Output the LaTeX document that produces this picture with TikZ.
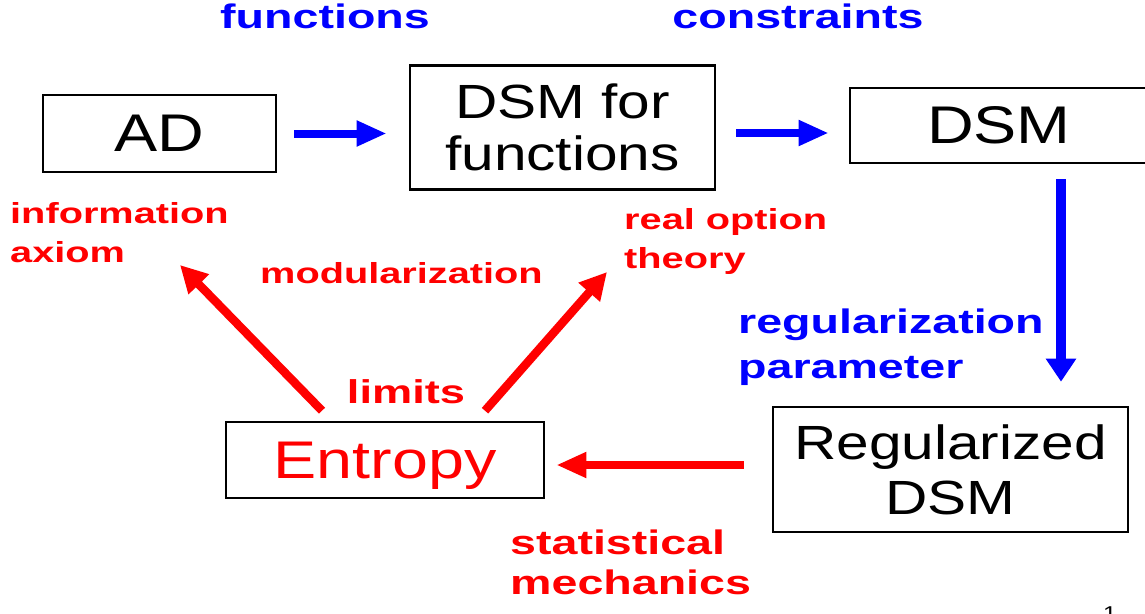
\documentclass[tikz,border=0pt]{standalone}
\usepackage{fontspec}
\usetikzlibrary{arrows.meta}
\newfontfamily\boxfont[FakeStretch=1.22]{Liberation Sans}
\newfontfamily\tagfont[FakeStretch=1.37]{Liberation Sans Bold}
\definecolor{tagred}{RGB}{255,0,0}
\definecolor{tagblue}{RGB}{0,0,255}
\begin{document}
\begin{tikzpicture}[x=1pt,y=-1pt,
  box/.style={draw=black, line width=2.6pt, inner sep=0pt, align=center, text=black},
  bigtext/.style={font=\boxfont\fontsize{53}{60}\selectfont},
  twotext/.style={font=\boxfont\fontsize{48}{#1}\selectfont},
  tag/.style={inner sep=0pt, align=left},
  tagsmall/.style={font=\tagfont\fontsize{29}{39}\selectfont},
  taglarge/.style={font=\tagfont\fontsize{34}{#1}\selectfont},
  flowH/.style={line width=8pt, -{Triangle[length=30pt,width=24pt]}},
  flowV/.style={line width=10pt, -{Triangle[length=23pt,width=29pt]}},
  flowD/.style={line width=8.5pt, -{Triangle[length=27pt,width=27pt]}},
]
\useasboundingbox (0,0) rectangle (1145,613);
\clip (0,0) rectangle (1145,613);

% boxes
\node[box, bigtext, minimum width=233pt, minimum height=77pt] (ad) at (159.5,133.5) {AD};
\node[box, twotext=52, minimum width=305pt, minimum height=124pt] (dsmf) at (562.5,127.5) {DSM for\\functions};
\node[box, bigtext, minimum width=298pt, minimum height=75pt] (dsm) at (999,125.5) {DSM};
\node[box, twotext=55, minimum width=355pt, minimum height=125pt] (reg) at (950.5,469.5) {Regularized\\DSM};
\node[box, bigtext, text=tagred, text depth=0pt, minimum width=318pt, minimum height=76pt] (ent) at (385,460) {Entropy};

% label texts
\node[tag, taglarge=40, text=tagblue, anchor=base] (lfun) at (325,28) {functions};
\node[tag, taglarge=40, text=tagblue, anchor=base] (lcon) at (798,28) {constraints};
\node[tag, tagsmall, text=tagred, anchor=north west] (linf) at (10,202) {information\\axiom};
\node[tag, tagsmall, text=tagred, anchor=base west] (lmod) at (260,283) {modularization};
\node[tag, tagsmall, text=tagred, anchor=north west] (lrot) at (624,208) {real option\\theory};
\node[tag, taglarge=45, text=tagblue, anchor=north west] (lrp) at (738,309) {regularization\\parameter};
\node[tag, font=\tagfont\fontsize{33}{40}\selectfont, text=tagred, anchor=base] (llim) at (406,403) {limits};
\node[tag, taglarge=40, text=tagred, anchor=north west] (lsm) at (510,530) {statistical\\mechanics};

% page number
\node[inner sep=0pt, anchor=north, font=\boxfont\fontsize{20}{24}\selectfont] (pg) at (1110,607) {1};

% arrow end points that sit in open space
\coordinate (tipinf) at (180,265);
\coordinate (tiprot) at (607,272);

% blue connectors
\draw[flowH, tagblue, shorten <=17pt, shorten >=22pt] (ad.east) -- (ad.east -| dsmf.west);
\draw[flowH, tagblue, shorten <=20pt, shorten >=20pt] ([yshift=-7.5pt]dsm.west -| dsmf.east) -- ([yshift=-7.5pt]dsm.west);
\draw[flowV, tagblue, shorten <=15pt, shorten >=24pt] ([xshift=62pt]dsm.south) -- ([xshift=62pt]dsm.south |- reg.north);

% red connectors
\draw[flowH, tagred, shorten <=28pt, shorten >=11pt] ([yshift=4.5pt]reg.west) -- ([yshift=4.5pt]reg.west -| ent.east);
\draw[flowD, tagred] ([xshift=-63pt,yshift=10pt]ent.north) -- (tipinf);
\draw[flowD, tagred] ([xshift=100pt,yshift=10pt]ent.north) -- (tiprot);
\end{tikzpicture}
\end{document}
